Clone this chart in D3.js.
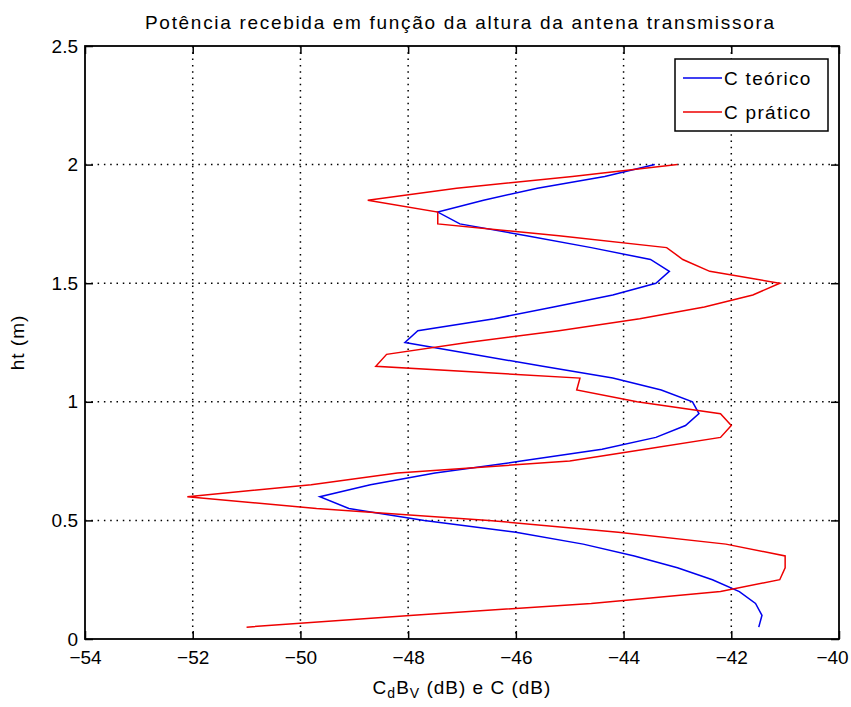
<!DOCTYPE html>
<html>
<head>
<meta charset="utf-8">
<script src="https://cdn.jsdelivr.net/npm/d3@7"></script>
<style>
  body { margin: 0; background: #fff; }
  svg { display: block; }
  text { font-family: "Liberation Sans", Arial, sans-serif; fill: #000; }
</style>
</head>
<body>
<svg id="chart" width="851" height="707"></svg>
<script>
// ---- data ----
const titleText = "Potência recebida em função da altura da antena transmissora";
const xTicks = [-54, -52, -50, -48, -46, -44, -42, -40];
const yTicks = [0, 0.5, 1, 1.5, 2, 2.5];
const yTickLabels = ["0", "0.5", "1", "1.5", "2", "2.5"];
const seriesNames = ["C teórico", "C prático"];
const seriesColors = ["#0000ee", "#ee0000"];

// C teórico: height (m) and power (dB)
const heightsTeorico = [0.05,0.10,0.15,0.20,0.25,0.30,0.35,0.40,0.45,0.50,0.55,0.60,0.65,0.70,0.75,0.80,0.85,0.90,0.95,1.00,
  1.05,1.10,1.15,1.20,1.25,1.30,1.35,1.40,1.45,1.50,1.55,1.60,1.65,1.70,1.75,1.80,1.85,1.90,1.95,2.00];
const valuesTeorico = [-41.49,-41.43,-41.55,-41.85,-42.35,-43.0,-43.8,-44.75,-46.0,-47.7,-49.1,-49.64,-48.7,-47.5,-45.9,-44.4,-43.4,-42.85,-42.6,-42.72,
  -43.3,-44.2,-45.5,-46.8,-48.06,-47.82,-46.4,-45.3,-44.2,-43.4,-43.15,-43.5,-44.6,-45.8,-47.04,-47.45,-46.6,-45.6,-44.35,-43.42];

// C prático: height (m) and power (dB)
const heightsPratico = [0.05,0.10,0.15,0.20,0.25,0.30,0.35,0.40,0.45,0.50,0.55,0.60,0.65,0.70,0.75,0.80,0.85,0.90,0.95,1.00,
  1.05,1.10,1.15,1.20,1.25,1.30,1.35,1.40,1.45,1.50,1.55,1.60,1.65,1.70,1.75,1.80,1.85,1.90,1.95,2.00];
const valuesPratico = [-51.0,-47.9,-44.6,-42.2,-41.1,-41.0,-41.0,-42.1,-44.1,-46.5,-49.7,-52.1,-49.8,-48.2,-45.0,-43.6,-42.2,-42.0,-42.2,-43.75,
  -44.87,-44.81,-48.6,-48.4,-46.9,-45.2,-43.7,-42.5,-41.6,-41.1,-42.4,-42.9,-43.2,-45.2,-47.45,-47.45,-48.75,-47.1,-44.95,-43.0];

// ---- layout ----
const svg = d3.select("#chart");
const L = 85, R = 839, T = 46, B = 639;
const FS = 19;
const x = d3.scaleLinear().domain([-54, -40]).range([L, R]);
const y = d3.scaleLinear().domain([0, 2.5]).range([B, T]);

// grid
const grid = svg.append("g");
grid.selectAll("line.gx").data(xTicks.slice(1, -1)).enter().append("line")
  .attr("x1", d => x(d)).attr("x2", d => x(d)).attr("y1", T).attr("y2", B)
  .attr("stroke", "#000").attr("stroke-width", 1.5).attr("stroke-dasharray", "1.5,4.8");
grid.selectAll("line.gy").data(yTicks.slice(1, -1)).enter().append("line")
  .attr("y1", d => y(d)).attr("y2", d => y(d)).attr("x1", L).attr("x2", R)
  .attr("stroke", "#000").attr("stroke-width", 1.5).attr("stroke-dasharray", "1.5,4.8");

// lines
const line = d3.line().x(d => x(d[1])).y(d => y(d[0]));
const dataT = heightsTeorico.map((h, i) => [h, valuesTeorico[i]]);
const dataP = heightsPratico.map((h, i) => [h, valuesPratico[i]]);
svg.append("path").datum(dataT).attr("d", line).attr("fill", "none")
  .attr("stroke", seriesColors[0]).attr("stroke-width", 1.5);
svg.append("path").datum(dataP).attr("d", line).attr("fill", "none")
  .attr("stroke", seriesColors[1]).attr("stroke-width", 1.5);

// axes with inward ticks
const axB = d3.axisBottom(x).tickValues(xTicks).tickSize(-8).tickFormat(d3.format("d")).tickPadding(12);
const axT = d3.axisTop(x).tickValues(xTicks).tickSize(-8).tickFormat("");
const axL = d3.axisLeft(y).tickValues(yTicks).tickSize(-8).tickFormat((d, i) => yTickLabels[i]).tickPadding(7);
const axR = d3.axisRight(y).tickValues(yTicks).tickSize(-8).tickFormat("");
function style(g) {
  g.select(".domain").remove();
  g.selectAll(".tick line").attr("stroke", "#000").attr("stroke-width", 1.5);
  g.selectAll("text").style("font-family", "Liberation Sans, Arial, sans-serif")
    .style("font-size", FS + "px").attr("fill", "#000");
}
const gB = svg.append("g").attr("transform", `translate(0,${B})`).call(axB).call(style);
// keep the last label inside the figure, as in the reference
gB.selectAll(".tick text").filter(d => d === -40).attr("dx", -7);
svg.append("g").attr("transform", `translate(0,${T})`).call(axT).call(style);
svg.append("g").attr("transform", `translate(${L},0)`).call(axL).call(style);
svg.append("g").attr("transform", `translate(${R},0)`).call(axR).call(style);

// box
svg.append("rect").attr("x", L).attr("y", T).attr("width", R - L).attr("height", B - T)
  .attr("fill", "none").attr("stroke", "#000").attr("stroke-width", 1.8);

// title
svg.append("text").attr("x", 145).attr("y", 29)
  .attr("textLength", 629).attr("lengthAdjust", "spacing")
  .style("font-size", FS + "px").text(titleText);

// y label
svg.append("text").attr("transform", `translate(24,${(T + B) / 2}) rotate(-90)`)
  .attr("text-anchor", "middle").style("font-size", FS + "px").style("letter-spacing", "1px").text("ht (m)");

// x label with subscripts
const xl = svg.append("text").attr("x", (L + R) / 2).attr("y", 694).attr("text-anchor", "middle")
  .style("font-size", FS + "px").style("letter-spacing", "1px");
xl.append("tspan").text("C");
xl.append("tspan").attr("baseline-shift", "-30%").style("font-size", "14px").text("d");
xl.append("tspan").text("B");
xl.append("tspan").attr("baseline-shift", "-30%").style("font-size", "14px").text("V");
xl.append("tspan").text(" (dB) e C (dB)");

// legend
const lg = svg.append("g");
const lgX = 675, lgY = 59, lgW = 153, lgH = 72;
lg.append("rect").attr("x", lgX).attr("y", lgY).attr("width", lgW).attr("height", lgH)
  .attr("fill", "#fff").attr("stroke", "#000").attr("stroke-width", 1.5);
seriesNames.forEach((n, i) => {
  const yy = lgY + 19 + i * 34;
  lg.append("line").attr("x1", lgX + 8).attr("x2", lgX + 47).attr("y1", yy).attr("y2", yy)
    .attr("stroke", seriesColors[i]).attr("stroke-width", 1.5);
  lg.append("text").attr("x", lgX + 49).attr("y", yy + 7).style("font-size", FS + "px")
    .style("letter-spacing", "1.3px").text(n);
});
</script>
</body>
</html>
